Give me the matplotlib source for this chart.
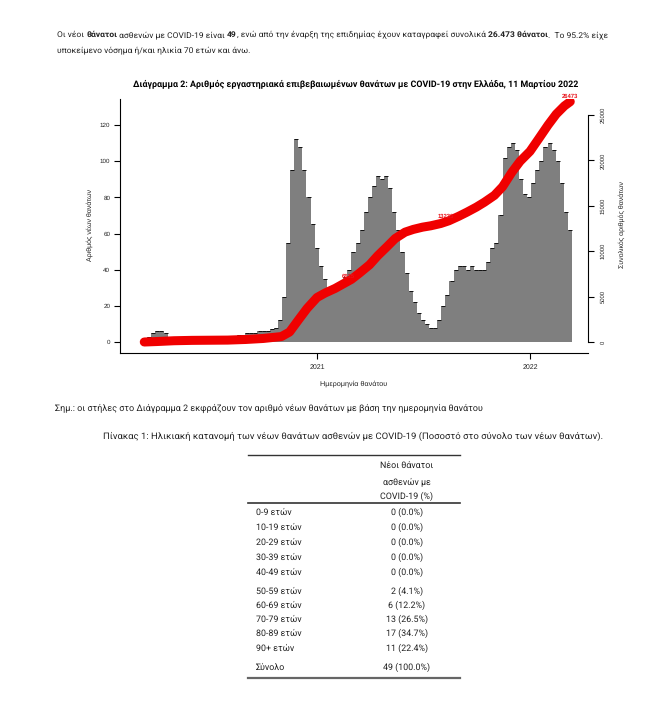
import numpy as np
import pandas as pd
import matplotlib
matplotlib.use("Agg")
import matplotlib.pyplot as plt
from matplotlib.lines import Line2D

plt.rcParams["text.hinting"] = "no_hinting"

W, H = 658, 711  # output size in px (dpi 100)
DOC_FONT = ["Roboto", "DejaVu Sans"]
AX_FONT = ["Liberation Sans", "DejaVu Sans"]
INK = "#222222"

# ---- data ----
# weekly level of daily deaths (as seen on the bars), weeks starting 2020-03-09
week_start = "2020-03-09"
daily_deaths = [
    1, 3, 5, 6, 6, 5, 3, 3, 2, 2, 1, 1,                 # Mar-May 2020
    1, 1, 1, 1, 1, 1, 1, 1, 2, 2, 3, 4, 4,              # Jun-Aug
    5, 5, 5, 6, 6, 6, 7, 8, 12,                         # Sep-Oct
    25, 55, 95, 112, 108, 95, 80, 65, 52,               # Nov-Dec
    42, 35, 30, 30, 32, 34, 36, 40,                     # Jan-Feb 2021
    50, 55, 62, 72, 80, 86, 92, 90, 92, 85, 72, 62, 50, 38,  # Mar-May
    28, 22, 16, 12, 10, 8, 8, 12,                       # Jun-Jul
    20, 26, 34, 40, 42, 42, 40, 42, 40, 40, 40, 44, 52, # Aug-Oct
    55, 70, 102, 108, 110, 106, 90, 82, 80,             # Nov-Dec
    88, 95, 100, 108, 110, 106, 100, 88, 72, 62,        # Jan-Mar 2022
]

# cumulative deaths (red line, right axis)
cum_dates = [
    "2020-03-11", "2020-04-01", "2020-05-01", "2020-06-01", "2020-07-01",
    "2020-08-01", "2020-09-01", "2020-10-01", "2020-11-01", "2020-11-15",
    "2020-12-01", "2020-12-15", "2021-01-01", "2021-01-15", "2021-02-01",
    "2021-02-15", "2021-03-01", "2021-03-15", "2021-04-01", "2021-04-15",
    "2021-05-01", "2021-05-15", "2021-06-01", "2021-06-15", "2021-07-01",
    "2021-07-15", "2021-08-01", "2021-08-15", "2021-09-01", "2021-09-15",
    "2021-10-01", "2021-10-15", "2021-11-01", "2021-11-15", "2021-12-01",
    "2021-12-15", "2022-01-01", "2022-01-15", "2022-02-01", "2022-02-15",
    "2022-03-01", "2022-03-11",
]
cum_deaths = [
    0, 50, 140, 180, 195,
    210, 280, 390, 600, 1100,
    2500, 3700, 4900, 5400, 5900,
    6400, 6900, 7600, 8500, 9500,
    10500, 11400, 12100, 12400, 12650,
    12800, 13050, 13350, 13850, 14300,
    14850, 15400, 16150, 17100, 18700,
    19900, 21000, 22300, 23900, 25100,
    26000, 26473,
]
cum_label_dates = ["2021-02-24", "2021-08-10", "2022-03-11"]
cum_label_values = [6615, 13233, 26473]

age_groups = ["0-9 ετών", "10-19 ετών", "20-29 ετών", "30-39 ετών", "40-49 ετών",
              "50-59 ετών", "60-69 ετών", "70-79 ετών", "80-89 ετών", "90+ ετών"]
age_counts = [0, 0, 0, 0, 0, 2, 6, 13, 17, 11]
age_pct = [0.0, 0.0, 0.0, 0.0, 0.0, 4.1, 12.2, 26.5, 34.7, 22.4]
total_count = 49
total_pct = 100.0


fig = plt.figure(figsize=(W / 100, H / 100), dpi=100)
renderer = fig.canvas.get_renderer()


def fx(x):
    return x / W


def fy(y):
    return 1 - y / H


def text_width(s, **kw):
    # measure with a sentinel so trailing spaces are counted
    t = fig.text(0, 0, s + "|", **kw)
    t2 = fig.text(0, 0, "|", **kw)
    w = t.get_window_extent(renderer).width - t2.get_window_extent(renderer).width
    t.remove()
    t2.remove()
    return w


def doc_text(x, y, s, size, ha="left", bold=False, color=INK):
    # y is the visual middle of the line; text sits on a baseline just below it
    return fig.text(fx(x), fy(y + 0.36 * size), s, fontsize=size,
                    fontweight="bold" if bold else "normal", family=DOC_FONT,
                    color=color, ha=ha, va="baseline")


def write_runs(x0, y, runs, size, width=None):
    """write a line made of (text, bold) runs; optionally scale to a px width"""
    def weight(b):
        return "bold" if b else "normal"
    if width is not None:
        total = sum(text_width(s, fontsize=size, fontweight=weight(b), family=DOC_FONT)
                    for s, b in runs)
        size = size * width / total
    x = x0
    for s, b in runs:
        doc_text(x, y, s, size, bold=b)
        x += text_width(s, fontsize=size, fontweight=weight(b), family=DOC_FONT)
    return size


def hline(x0, x1, y, lw, color):
    fig.add_artist(Line2D([fx(x0), fx(x1)], [fy(y), fy(y)], lw=lw, color=color,
                          transform=fig.transFigure))


# ---- paragraph on top ----
line1 = [("Οι νέοι ", False), ("θάνατοι", True), (" ασθενών με COVID-19 είναι ", False),
         ("49", True), (", ενώ από την έναρξη της επιδημίας έχουν καταγραφεί συνολικά ", False),
         ("26.473 θάνατοι", True), (".  Το 95.2% είχε", False)]
psize = write_runs(57, 35, line1, 6, width=550)
write_runs(57, 50, [("υποκείμενο νόσημα ή/και ηλικία 70 ετών και άνω.", False)], psize)

# ---- chart ----
title = ("Διάγραμμα 2: Αριθμός εργαστηριακά επιβεβαιωμένων θανάτων με COVID-19 "
         "στην Ελλάδα, 11 Μαρτίου 2022")
tsize = 6 * 448 / text_width(title, fontsize=6, fontweight="bold", family=DOC_FONT)
doc_text(356, 84, title, tsize, ha="center", bold=True, color="black")

ax_l, ax_r, ax_t, ax_b = 120, 588, 99, 353
ax = fig.add_axes([fx(ax_l), fy(ax_b), (ax_r - ax_l) / W, (ax_b - ax_t) / H])
ax2 = ax.twinx()

weeks = pd.date_range(week_start, periods=len(daily_deaths), freq="7D")
ax.bar(weeks, daily_deaths, width=7, align="edge", color="#7f7f7f", linewidth=0)
ax.plot(weeks + pd.Timedelta(days=3.5), daily_deaths, ls="none", marker="_",
        ms=3, mew=0.7, color="#111111")

px_per_day = (530 - 317) / 365
d2021 = pd.Timestamp("2021-01-01")
ax.set_xlim(d2021 - pd.Timedelta(days=(317 - ax_l) / px_per_day),
            d2021 + pd.Timedelta(days=(ax_r - 317) / px_per_day))
px_per_unit = (342 - 125) / 120
ax.set_ylim(-(ax_b - 342) / px_per_unit, (342 - ax_t) / px_per_unit)
px_per_k = (342 - 115) / 25000
ax2.set_ylim(-(ax_b - 342) / px_per_k, (342 - ax_t) / px_per_k)

ax2.plot(pd.to_datetime(cum_dates), cum_deaths, color="#f00000", lw=6.5,
         solid_capstyle="round", solid_joinstyle="round")
for d, v in zip(cum_label_dates, cum_label_values):
    ax2.annotate(str(v), (pd.Timestamp(d), v), xytext=(0, 2), textcoords="offset points",
                 ha="center", va="bottom", fontsize=4.2, fontweight="bold",
                 color="#e8141c", family=AX_FONT)

for s in ["top", "right"]:
    ax.spines[s].set_visible(False)
for s in ["top", "left", "bottom"]:
    ax2.spines[s].set_visible(False)
ax2.spines["right"].set_bounds(0, 25000)
for sp in list(ax.spines.values()) + [ax2.spines["right"]]:
    sp.set_linewidth(0.8)

ax.set_yticks(np.arange(0, 121, 20))
ax.set_xticks([pd.Timestamp("2021-01-01"), pd.Timestamp("2022-01-01")])
ax.set_xticklabels(["2021", "2022"])
ax.tick_params(axis="y", length=4, width=0.8, pad=3, labelsize=4.5)
ax.tick_params(axis="x", length=4, width=0.8, pad=4, labelsize=5)
ax2.set_yticks(np.arange(0, 25001, 5000))
ax2.tick_params(axis="y", length=4, width=0.8, pad=5, labelsize=4.2, labelrotation=90)
for t in ax.get_xticklabels() + ax.get_yticklabels() + ax2.get_yticklabels():
    t.set_family(AX_FONT)
    t.set_color(INK)
for t in ax2.get_yticklabels():
    t.set_va("center")

fig.text(fx(90), fy(225), "Αριθμός νέων θανάτων", rotation=90, fontsize=5,
         family=AX_FONT, ha="center", va="center", color=INK)
fig.text(fx(622), fy(225), "Συνολικός αριθμός θανάτων", rotation=90, fontsize=5,
         family=AX_FONT, ha="center", va="center", color=INK)
fig.text(fx(354), fy(384), "Ημερομηνία θανάτου", fontsize=5.2,
         family=AX_FONT, ha="center", va="center", color=INK)

# ---- note and table title ----
note = "Σημ.: οι στήλες στο Διάγραμμα 2 εκφράζουν τον αριθμό νέων θανάτων με βάση την ημερομηνία θανάτου"
write_runs(55, 409, [(note, False)], 6, width=432)
ttl = ("Πίνακας 1: Ηλικιακή κατανομή των νέων θανάτων ασθενών με COVID-19 "
       "(Ποσοστό στο σύνολο των νέων θανάτων).")
write_runs(103, 436, [(ttl, False)], 6, width=500)

# ---- table ----
tab_l, tab_r, col_x, lab_x = 248, 460, 407, 256
fs = 6.4
hline(tab_l, tab_r, 455, 1.0, "#333333")
for y, s in zip([466, 482, 497], ["Νέοι θάνατοι", "ασθενών με", "COVID-19 (%)"]):
    doc_text(col_x, y, s, fs, ha="center")
hline(tab_l, tab_r, 503, 1.2, "#333333")

row_y = [513, 528, 543, 558, 573, 592, 606, 620, 634, 649]
for y, g, c, p in zip(row_y, age_groups, age_counts, age_pct):
    doc_text(lab_x, y, g, fs)
    doc_text(col_x, y, f"{c} ({p:.1f}%)", fs, ha="center")
doc_text(lab_x, 668, "Σύνολο", fs)
doc_text(col_x, 668, f"{total_count} ({total_pct:.1f}%)", fs, ha="center")
hline(tab_l, tab_r, 678, 1.6, "#666666")

fig.savefig("out.png", dpi=100)
